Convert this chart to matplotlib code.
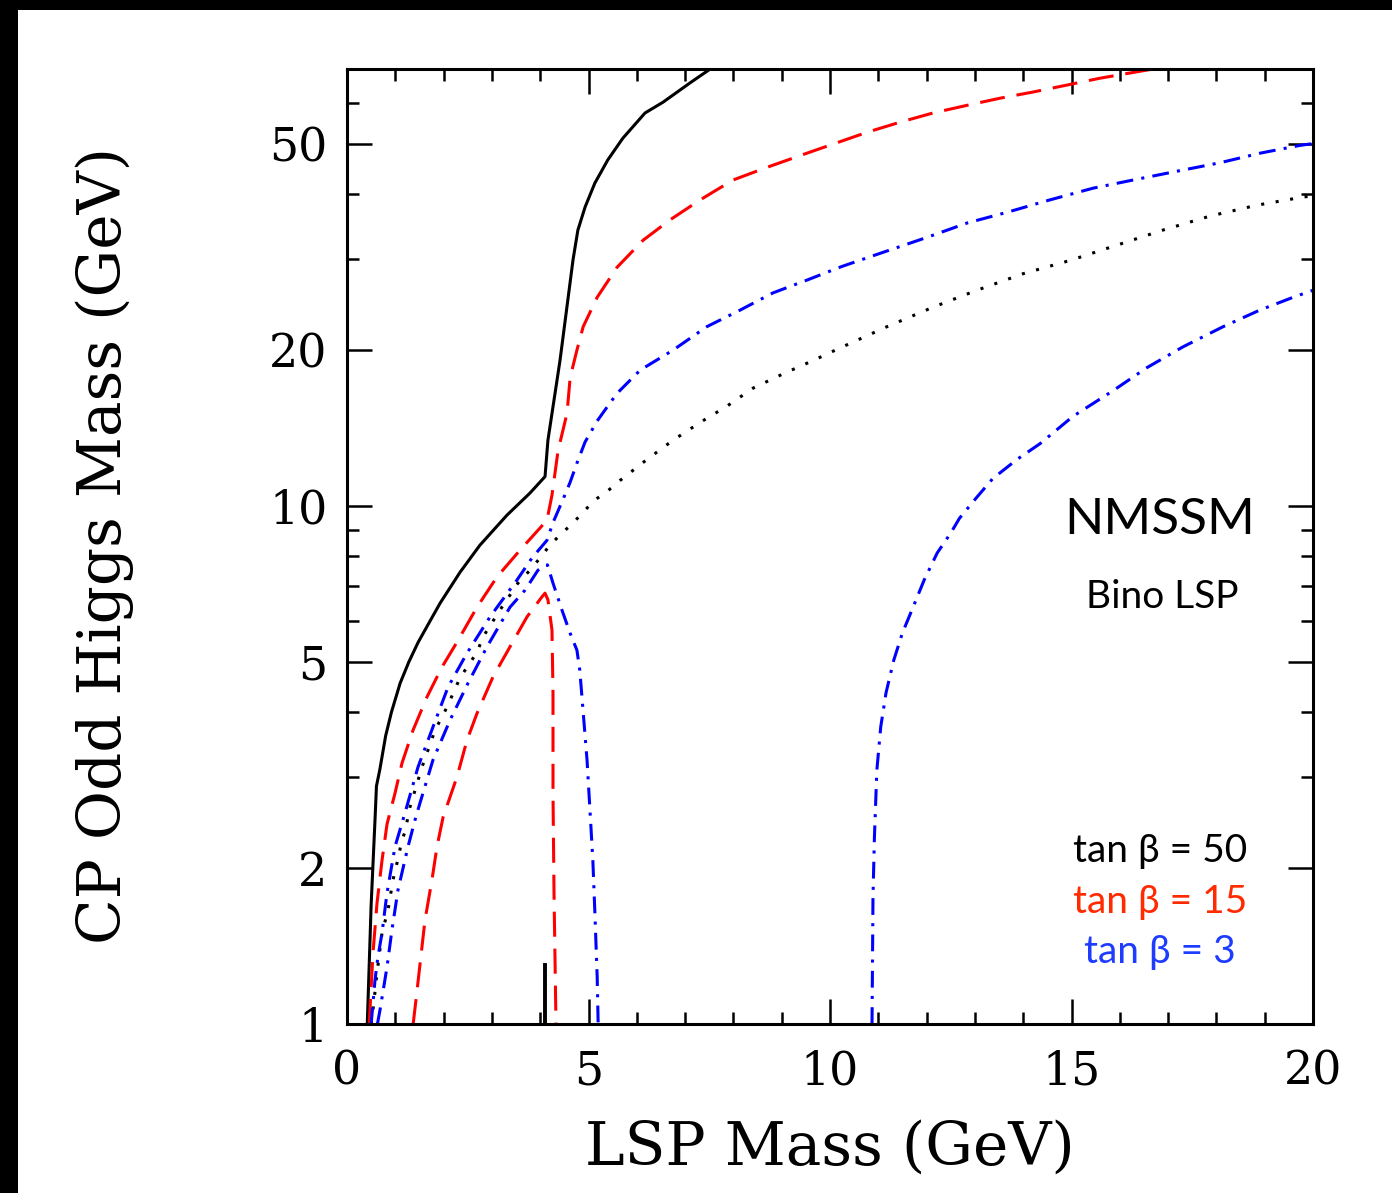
import matplotlib
matplotlib.use("Agg")
import matplotlib.pyplot as plt
from matplotlib.ticker import FixedLocator, NullFormatter
import matplotlib.patches as mpatches

# tan beta = 50, black solid
x_tb50 = [0.42, 0.50, 0.58, 0.61, 0.68, 0.80, 0.92, 1.10, 1.28, 1.47, 1.72, 1.93, 2.34, 2.75,
          3.31, 3.79, 4.10, 4.16, 4.41, 4.68, 4.78, 4.93, 5.13, 5.40, 5.71, 6.17, 6.54,
          7.10, 7.52]
y_tb50 = [1.0, 1.7, 2.48, 2.88, 3.1, 3.6, 4.0, 4.55, 5.0, 5.45, 6.0, 6.5, 7.45, 8.4,
          9.6, 10.6, 11.4, 13.4, 19.1, 29.9, 34.1, 37.8, 42.0, 46.6, 51.3, 57.4, 60.2,
          65.6, 69.8]
# small spike of the tan beta = 50 curve near 4.1 GeV
x_tb50_spike = [4.09, 4.09]
y_tb50_spike = [1.0, 1.30]

# tan beta = 50, black dotted
x_tb50_dot = [0.50, 0.538, 0.621, 0.725, 0.849, 0.952, 1.035, 1.139, 1.20, 1.304, 1.553,
              1.822, 2.07, 2.34, 2.692, 2.816, 3.168, 3.54, 3.789, 3.996, 4.203, 4.451,
              4.679, 4.886, 5.13, 5.40, 5.65, 6.21, 6.75, 7.31, 7.87, 8.41, 9.03, 9.65,
              10.21, 11.18, 12.13, 13.04, 14.0, 14.97, 15.94, 16.89, 17.87, 18.84, 19.79, 20.0]
y_tb50_dot = [1.0, 1.064, 1.254, 1.499, 1.66, 1.897, 2.045, 2.266, 2.349, 2.624, 3.134,
              3.69, 4.09, 4.66, 5.22, 5.59, 6.30, 7.10, 7.52, 7.94, 8.41, 8.87,
              9.27, 9.73, 10.27, 10.7, 11.2, 12.3, 13.4, 14.5, 15.6, 16.9, 18.0, 19.1,
              20.2, 22.2, 24.2, 26.1, 28.1, 29.8, 31.9, 34.1, 36.3, 38.1, 39.5, 39.7]

# tan beta = 15, red dashed (upper branch)
x_tb15_up = [0.46, 0.538, 0.621, 0.725, 0.828, 0.994, 1.139, 1.366, 1.656, 1.967, 2.277,
             2.692, 3.106, 3.582, 3.996, 4.141, 4.244, 4.37, 4.555, 4.62, 4.76, 4.89, 5.18,
             5.59, 6.13, 6.69, 7.31, 7.99, 8.70, 9.52, 10.2, 10.77, 11.45, 12.13, 12.84,
             13.52, 14.2, 14.91, 15.59, 16.69]
y_tb15_up = [1.0, 1.37, 1.71, 2.07, 2.43, 2.79, 3.19, 3.69, 4.28, 4.89, 5.46,
             6.38, 7.3, 8.22, 9.07, 9.40, 10.5, 12.8, 15.1, 17.7, 20.0, 22.2, 25.3,
             28.9, 32.6, 35.7, 39.0, 42.6, 45.1, 48.0, 50.5, 52.7, 55.1, 57.4, 59.4,
             61.3, 63.0, 65.0, 67.0, 69.8]

# tan beta = 15, red dashed (lower branch)
x_tb15_lo = [1.37, 1.45, 1.615, 1.76, 1.863, 1.99, 2.277, 2.484, 2.692, 3.023, 3.375,
             3.727, 4.037, 4.10, 4.161, 4.244, 4.265, 4.265, 4.286, 4.327]
y_tb15_lo = [1.0, 1.16, 1.588, 1.90, 2.20, 2.51, 3.0, 3.53, 3.98, 4.68, 5.35,
             6.11, 6.68, 6.79, 6.59, 5.76, 4.36, 2.79, 1.79, 1.0]

# tan beta = 3, blue dash-dot (upper branch)
x_tb3_up = [0.50, 0.58, 0.64, 0.725, 0.828, 0.994, 1.20, 1.47, 1.78, 2.091, 2.484, 2.961,
            3.52, 3.83, 4.141, 4.265, 4.472, 4.617, 4.76, 4.93, 5.18, 5.40, 5.59, 6.07,
            6.75, 7.45, 8.14, 8.82, 9.52, 10.24, 11.1, 12.0, 12.84, 13.66, 14.55, 15.45,
            16.27, 17.18, 18.07, 18.9, 19.73, 20.0]
y_tb3_up = [1.0, 1.216, 1.347, 1.499, 1.79, 2.20, 2.555, 3.134, 3.745, 4.47, 5.2, 6.11,
            7.2, 7.94, 8.59, 9.29, 10.3, 11.1, 12.1, 13.3, 14.6, 15.6, 16.5, 18.3,
            20.0, 22.2, 23.9, 25.8, 27.3, 29.0, 30.9, 33.0, 35.2, 36.9, 39.0, 41.1,
            42.6, 44.3, 46.0, 48.0, 49.7, 50.1]

# tan beta = 3, blue dash-dot (lower branch, closes near 5 GeV)
x_tb3_lo = [0.63, 0.683, 0.828, 0.93, 1.056, 1.263, 1.41, 1.511, 1.78, 2.133, 2.505, 2.899,
            3.375, 3.685, 3.954, 4.058, 4.15, 4.265, 4.45, 4.617, 4.76, 4.82, 4.886, 4.97,
            5.03, 5.09, 5.13, 5.18, 5.2]
y_tb3_lo = [1.0, 1.064, 1.288, 1.518, 1.815, 2.20, 2.48, 2.671, 3.234, 3.86, 4.55, 5.35,
            6.38, 6.88, 7.52, 7.63, 7.7, 7.1, 6.30, 5.69, 5.27, 4.82, 4.04, 3.23,
            2.59, 2.07, 1.66, 1.23, 1.0]

# tan beta = 3, blue dash-dot (right-hand curve)
x_tb3_r = [10.87, 10.89, 10.92, 10.97, 11.05, 11.16, 11.32, 11.50, 11.72, 11.95, 12.22,
           12.50, 12.68, 13.04, 13.37, 13.87, 14.35, 15.03, 15.86, 16.56, 17.31, 18.14,
           18.9, 19.59, 20.0]
y_tb3_r = [1.0, 1.76, 2.30, 3.09, 3.745, 4.36, 5.04, 5.69, 6.38, 7.2, 8.12,
           8.87, 9.47, 10.4, 11.3, 12.3, 13.2, 14.9, 16.7, 18.5, 20.3, 22.2,
           23.9, 25.3, 26.1]

y_major = [1, 2, 5, 10, 20, 50]
y_minor = [3, 4, 6, 7, 8, 9, 30, 40, 60, 70]
x_major = [0, 5, 10, 15, 20]
x_minor = [1, 2, 3, 4, 6, 7, 8, 9, 11, 12, 13, 14, 16, 17, 18, 19]

legend_labels = ["tan β = 50", "tan β = 15", "tan β = 3"]
legend_colors = ["black", "#ff2a00", "#1e3cff"]

W, H = 1392, 1193
fig = plt.figure(figsize=(W / 100, H / 100), dpi=100)
ax = fig.add_axes([347 / W, 1 - 1024 / H, 966 / W, 955 / H])

lw = 2.2
ax.plot(x_tb50, y_tb50, color="black", lw=lw)
ax.plot(x_tb50_spike, y_tb50_spike, color="black", lw=lw + 0.6)
ax.plot(x_tb50_dot, y_tb50_dot, color="black", lw=lw, linestyle=(0, (1.0, 3.8)))
dash = (0, (8.2, 3.9))
ax.plot(x_tb15_up, y_tb15_up, color="red", lw=lw, linestyle=dash)
ax.plot(x_tb15_lo, y_tb15_lo, color="red", lw=lw, linestyle=dash)
dashdot = (0, (5.5, 2.7, 1.0, 2.7))
ax.plot(x_tb3_up, y_tb3_up, color="blue", lw=lw, linestyle=dashdot)
ax.plot(x_tb3_lo, y_tb3_lo, color="blue", lw=lw, linestyle=dashdot)
ax.plot(x_tb3_r, y_tb3_r, color="blue", lw=lw, linestyle=dashdot)

ax.set_yscale("log")
ax.set_xlim(0, 20)
ax.set_ylim(1, 69.8)
ax.yaxis.set_major_locator(FixedLocator(y_major))
ax.yaxis.set_minor_locator(FixedLocator(y_minor))
ax.yaxis.set_minor_formatter(NullFormatter())
ax.set_yticklabels([str(v) for v in y_major])
ax.xaxis.set_major_locator(FixedLocator(x_major))
ax.xaxis.set_minor_locator(FixedLocator(x_minor))
ax.set_xticklabels([str(v) for v in x_major])

for s in ax.spines.values():
    s.set_linewidth(2.2)
ax.tick_params(which="both", direction="in", top=True, right=True, width=1.8)
ax.tick_params(which="major", length=18)
ax.tick_params(which="minor", length=8.5)
ax.tick_params(axis="y", which="major", pad=14, labelsize=33)
ax.tick_params(axis="x", which="major", pad=18, labelsize=33)
for lab in ax.get_xticklabels() + ax.get_yticklabels():
    lab.set_family("DejaVu Serif")

fig.text(830 / W, 1 - 1148 / H, "LSP Mass (GeV)", ha="center", va="center",
         fontsize=43, family="DejaVu Serif")
fig.text(105 / W, 1 - 545 / H, "CP Odd Higgs Mass (GeV)", ha="center", va="center",
         rotation=90, fontsize=43, family="DejaVu Serif")

fig.text(1160 / W, 1 - 520 / H, "NMSSM", ha="center", va="center",
         fontsize=37, family="Lato")
fig.text(1162 / W, 1 - 597 / H, "Bino LSP", ha="center", va="center",
         fontsize=28, family="Lato")
for i, (lab, col) in enumerate(zip(legend_labels, legend_colors)):
    fig.text(1160 / W, 1 - (851 + 50.5 * i) / H, lab, ha="center", va="center",
             fontsize=28, family="Lato", color=col)

# black frame strips along the top and left edges of the screenshot
fig.patches.append(mpatches.Rectangle((0, 1 - 10 / H), 1, 10 / H, transform=fig.transFigure,
                                      facecolor="black", edgecolor="none"))
fig.patches.append(mpatches.Rectangle((0, 0), 18 / W, 1, transform=fig.transFigure,
                                      facecolor="black", edgecolor="none"))

fig.savefig("out.png", dpi=100)
